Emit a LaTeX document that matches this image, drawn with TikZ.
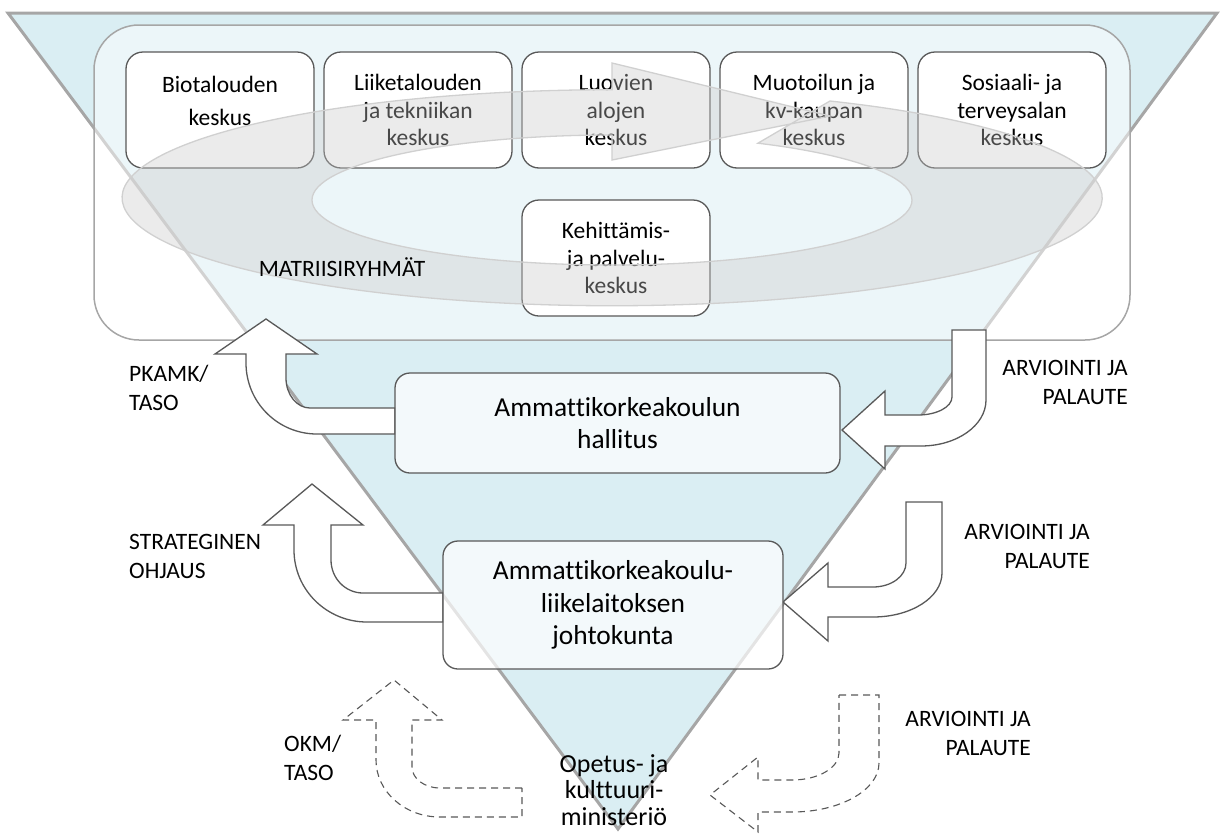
\documentclass[tikz,border=0pt]{standalone}
\usepackage{fontspec}
\setmainfont{Carlito}[Ligatures=NoCommon]
\definecolor{triblue}{RGB}{218,238,243}
\definecolor{edgegray}{RGB}{166,166,166}
\definecolor{boxline}{RGB}{89,89,89}
\definecolor{ringgray}{RGB}{200,200,200}
\definecolor{ringline}{RGB}{208,208,208}
\begin{document}
\begin{tikzpicture}[x=1pt,y=-1pt,
    unitbox/.style={draw=boxline,line width=1.3pt,fill=white,rounded corners=17pt,
      minimum width=188pt,minimum height=116pt,inner sep=0pt,align=center,
      font=\fontsize{23.5}{27.5}\selectfont},
    bigbox/.style={draw=boxline,line width=1.3pt,fill=white,fill opacity=0.7,text opacity=1,
      rounded corners=15pt,inner sep=0pt,align=center,font=\fontsize{27.4}{32.5}\selectfont},
    blockarrow/.style={draw=boxline,line width=1.3pt,fill=white,line join=miter},
    dasharrow/.style={draw=boxline,line width=1.1pt,fill=white,dash pattern=on 7pt off 5pt},
    sidetext/.style={inner sep=0pt,font=\fontsize{23.5}{29}\selectfont}]
    \useasboundingbox (0,0) rectangle (1221,833);
    %% funnel
    \draw[edgegray,line width=3pt,fill=triblue] (8,13) -- (1217,13) -- (618,829) -- cycle;
    %% matrix frame
    \draw[edgegray,line width=1.5pt,fill=white,fill opacity=0.5,rounded corners=45pt] (94,25) rectangle (1130,340);
    %% centres
    \node[unitbox,text depth=19pt] (bio) at (220,110) {Biotalouden\\[5.5pt]keskus};
    \node[unitbox] (liike) at (418,110) {Liiketalouden\\ja tekniikan\\keskus};
    \node[unitbox] (luova) at (616,110) {Luovien\\alojen\\keskus};
    \node[unitbox] (muoto) at (814,110) {Muotoilun ja\\kv-kaupan\\keskus};
    \node[unitbox] (sote) at (1012,110) {Sosiaali- ja\\terveysalan\\keskus};
    \node[unitbox] (kepa) at (616,258) {Kehittämis-\\ja palvelu-\\keskus};
    %% circular arrow
    \filldraw[draw=ringline,line width=1.3pt,fill=ringgray,fill opacity=0.36]
      (830,101) arc[start angle=-63.6,end angle=270,x radius=490,y radius=108]
      -- (612,63) -- (830,116) -- (612,160) -- (612,135)
      arc[start angle=270,end angle=-60.9,x radius=300,y radius=65] -- cycle;
    \node[sidetext] (matriisi) at (342,267) {MATRIISIRYHMÄT};
    %% steering arrows (left)
    \draw[blockarrow] (395,408) -- (310,408) arc[start angle=90,end angle=180,x radius=24,y radius=30]
      -- (286,354) -- (317,354) -- (266,319) -- (215,354) -- (246,354) -- (246,363)
      arc[start angle=180,end angle=90,x radius=71,y radius=71] -- (395,434) -- cycle;
    \draw[blockarrow] (443,593) -- (363,593) arc[start angle=90,end angle=180,x radius=32,y radius=33]
      -- (331,525) -- (363,525) -- (312,484) -- (263,525) -- (294,525) -- (294,550)
      arc[start angle=180,end angle=90,x radius=73,y radius=72] -- (443,622) -- cycle;
    \draw[dasharrow] (522,788) -- (440,788) arc[start angle=90,end angle=180,x radius=28,y radius=21]
      -- (412,720) -- (442,720) -- (394,680) -- (343,720) -- (376,720) -- (376,760)
      arc[start angle=180,end angle=90,x radius=64,y radius=57] -- (522,817) -- cycle;
    %% feedback arrows (right)
    \draw[blockarrow] (952,330) -- (986,330) -- (986,400)
      arc[start angle=0,end angle=90,x radius=65,y radius=46] -- (885,446) -- (885,469)
      -- (842,430) -- (885,391) -- (885,415) -- (918,415)
      arc[start angle=90,end angle=0,x radius=34,y radius=18] -- cycle;
    \draw[blockarrow] (906,502) -- (942,502) -- (942,573)
      arc[start angle=0,end angle=90,x radius=69,y radius=44] -- (828,617) -- (828,641)
      -- (783,602) -- (828,563) -- (828,587) -- (873,587)
      arc[start angle=90,end angle=0,x radius=33,y radius=24] -- cycle;
    \draw[dasharrow] (839,695) -- (879,695) -- (879,763)
      arc[start angle=0,end angle=90,x radius=87,y radius=49] -- (758,812) -- (758,832)
      -- (710,795) -- (758,757) -- (758,780) -- (792,780)
      arc[start angle=90,end angle=0,x radius=47,y radius=27] -- cycle;
    %% boards
    \node[bigbox,minimum width=445pt,minimum height=100pt] (hallitus) at (617.5,423) {Ammattikorkeakoulun\\hallitus};
    \node[bigbox,minimum width=340pt,minimum height=128pt] (johto) at (613,605) {Ammattikorkeakoulu-\\liikelaitoksen\\johtokunta};
    \node[inner sep=0pt,align=center,font=\fontsize{26}{26.5}\selectfont] (okm) at (614,790) {Opetus- ja\\kulttuuri-\\ministeriö};
    %% side texts
    \node[sidetext,align=left,anchor=west] (pkamk) at (129,387.5) {PKAMK/\\TASO};
    \node[sidetext,align=left,anchor=west] (strat) at (129,556) {STRATEGINEN\\OHJAUS};
    \node[sidetext,align=left,anchor=west] (okmtaso) at (284,758) {OKM/\\TASO};
    \node[sidetext,align=right,anchor=east] (arvio1) at (1128,382.5) {ARVIOINTI JA\\PALAUTE};
    \node[sidetext,align=right,anchor=east] (arvio2) at (1090,546.5) {ARVIOINTI JA\\PALAUTE};
    \node[sidetext,align=right,anchor=east] (arvio3) at (1031,733.5) {ARVIOINTI JA\\PALAUTE};
\end{tikzpicture}
\end{document}
